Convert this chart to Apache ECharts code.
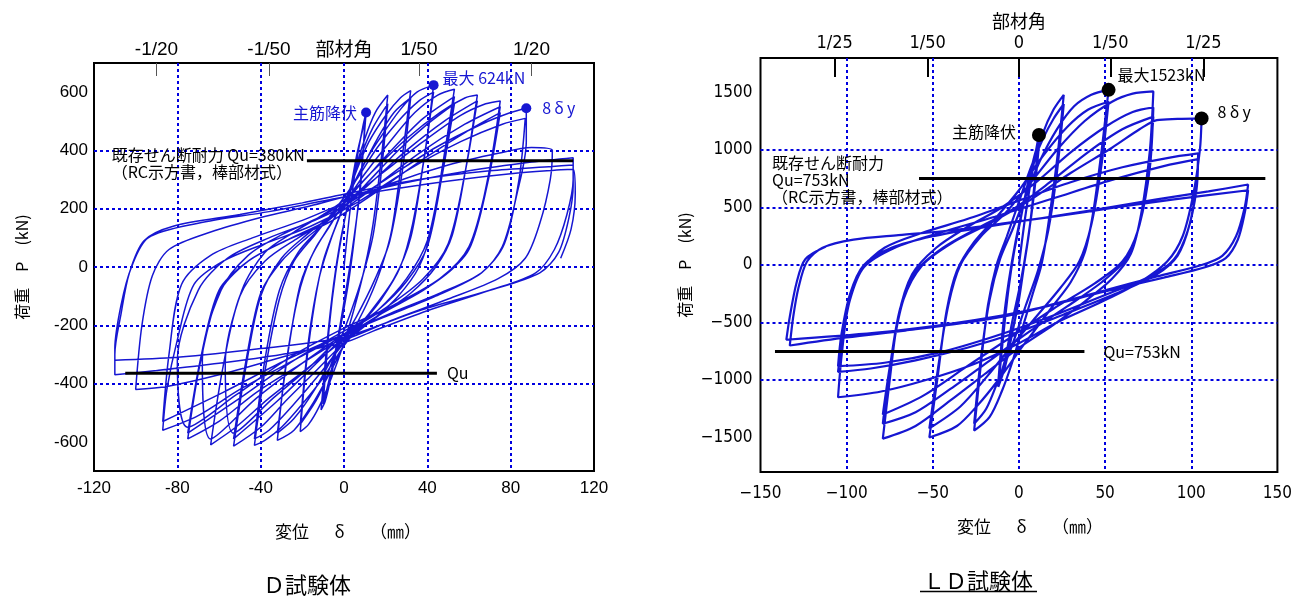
<!DOCTYPE html>
<html><head><meta charset="utf-8">
<script src="https://cdn.jsdelivr.net/npm/echarts@6/dist/echarts.min.js"></script>
<style>html,body{margin:0;padding:0;background:#fff}#c{width:1295px;height:597px}</style>
</head><body><div id="c"></div>
<script>
// ---------- D specimen (left) : displacement mm, load kN ----------
const D_c1 = [[0,0],[3,200],[6,360],[9,480],[10.6,530],[8,300],[5,100],[2,-60],[-2,-220],[-6,-370],[-9,-460],[-11,-490]];
const D_c1b = [[-8,-250],[-5,-60],[-2,80],[2,220],[6,380],[10,500],[8,280],[4,60],[0,-120],[-5,-320],[-10,-470]];
const D_c2 = [[-7,-200],[-4,-20],[0,150],[5,320],[10,440],[15,530],[21,590],[18,380],[14,150],[10,0],[5,-140],[0,-260],[-6,-380],[-12,-480],[-17,-540],[-21,-565]];
const D_c2b = [[-18,-330],[-14,-120],[-10,20],[-4,140],[2,250],[8,380],[14,480],[21,560],[18,330],[14,110],[9,-30],[3,-160],[-4,-290],[-12,-440],[-21,-540]];
const D_c3 = [[-17,-250],[-12,-40],[-6,100],[0,210],[6,330],[12,430],[20,520],[27,580],[32,605],[28,380],[23,130],[18,0],[12,-110],[5,-210],[0,-270],[-8,-380],[-16,-480],[-24,-560],[-32,-595]];
const D_c3b = [[-28,-340],[-22,-100],[-16,30],[-8,130],[0,220],[8,330],[16,440],[24,530],[32,580],[28,330],[22,90],[15,-40],[6,-170],[-4,-290],[-14,-420],[-24,-520],[-32,-570]];
const D_c4 = [[-27,-300],[-21,-60],[-14,60],[-6,150],[2,250],[10,360],[18,450],[27,540],[35,600],[43,624],[39,400],[33,150],[27,0],[18,-110],[8,-200],[0,-270],[-10,-380],[-20,-470],[-30,-550],[-38,-595],[-43,-612]];
const D_c4b = [[-38,-360],[-31,-110],[-24,20],[-14,110],[-4,200],[6,300],[16,410],[26,500],[36,570],[43,600],[38,350],[32,100],[24,-40],[12,-160],[0,-260],[-12,-370],[-24,-470],[-36,-560],[-43,-590]];
const D_c5 = [[-38,-320],[-31,-80],[-22,50],[-12,130],[0,220],[10,320],[22,430],[34,530],[45,590],[53,610],[48,380],[42,130],[36,0],[26,-100],[14,-180],[0,-260],[-14,-360],[-28,-460],[-40,-550],[-53,-615]];
const D_c5b = [[-47,-340],[-40,-100],[-30,30],[-18,110],[-4,190],[10,300],[24,410],[38,510],[53,585],[47,330],[40,90],[30,-40],[16,-150],[0,-240],[-16,-350],[-32,-460],[-53,-590]];
const D_c5c = [[-47,-320],[-40,-90],[-30,20],[-18,100],[-4,180],[10,280],[26,400],[40,490],[53,560],[47,310],[40,70],[30,-50],[16,-150],[0,-230],[-16,-340],[-34,-450],[-53,-570]];
const D_c6 = [[-57,-330],[-49,-80],[-38,50],[-24,120],[-10,180],[0,230],[14,330],[30,440],[46,530],[58,580],[64,590],[59,360],[52,110],[44,0],[32,-90],[16,-170],[0,-250],[-18,-350],[-36,-450],[-52,-550],[-64,-610]];
const D_c6b = [[-58,-340],[-50,-100],[-38,20],[-22,100],[-6,170],[10,270],[30,400],[48,500],[64,570],[58,320],[50,80],[38,-40],[20,-140],[0,-230],[-20,-330],[-42,-450],[-64,-590]];
const D_c7 = [[-68,-320],[-59,-80],[-46,40],[-30,110],[-12,170],[0,220],[18,320],[38,430],[56,520],[68,560],[75,570],[70,340],[62,100],[53,0],[38,-80],[18,-160],[0,-240],[-20,-330],[-42,-430],[-60,-530],[-75,-590]];
const D_c7b = [[-69,-330],[-60,-90],[-46,20],[-28,90],[-8,160],[12,260],[36,390],[58,490],[75,550],[69,300],[60,70],[46,-40],[24,-130],[0,-220],[-24,-320],[-50,-450],[-75,-570]];
const D_c7c = [[-69,-320],[-60,-80],[-46,20],[-28,90],[-8,150],[14,250],[38,370],[60,470],[75,530],[69,290],[60,60],[46,-40],[24,-130],[0,-210],[-26,-310],[-52,-440],[-75,-550]];
const D_c8 = [[-80,-320],[-70,-80],[-56,30],[-36,100],[-14,160],[0,210],[20,300],[44,410],[66,490],[80,530],[87.5,545],[87.5,430],[83,250],[76,70],[66,-20],[46,-90],[22,-160],[0,-230],[-24,-320],[-50,-420],[-70,-510],[-87,-560]];
const D_c8b = [[-85,-420],[-80,-250],[-72,-60],[-58,20],[-38,80],[-16,140],[6,220],[30,330],[56,430],[76,490],[87,510],[84,300],[77,80],[66,-20],[44,-100],[20,-170],[0,-230],[-28,-320],[-58,-430],[-87,-530]];
const D_c9 = [[-84,-300],[-78,-60],[-64,40],[-44,100],[-20,160],[0,220],[24,290],[50,350],[74,390],[90,410],[100,400],[99,300],[94,150],[87,30],[74,-40],[50,-110],[24,-180],[0,-250],[-30,-310],[-60,-370],[-85,-410],[-100,-420]];
const D_c10 = [[-97,-200],[-92,-30],[-84,60],[-64,120],[-40,170],[-16,210],[0,240],[30,290],[60,330],[90,360],[110,375],[110,300],[107,180],[101,60],[92,-20],[70,-80],[40,-150],[14,-220],[0,-260],[-30,-300],[-60,-330],[-90,-355],[-110,-370]];
const D_c10b = [[-110,-300],[-107,-160],[-103,-20],[-96,90],[-82,140],[-50,180],[-20,220],[0,250],[36,300],[70,330],[100,345],[110,350],[110,280],[108,170],[103,50],[94,-20],[70,-80],[36,-150],[0,-240],[-40,-280],[-80,-310],[-110,-320]];
const D_c10c = [[-110,-280],[-107,-130],[-102,0],[-94,100],[-70,150],[-36,190],[0,240],[40,285],[80,320],[110,335],[111,250],[109,130],[104,30]];

const D_yield = [10.6, 530];
const D_max = [43, 624];
const D_8dy = [87.5, 545];
const D_quUpper = [[-17.8, 365], [110, 365]];
const D_quLower = [[-105, -365], [44.6, -365]];
const D_quNote = [-111.5, 356];
const D_yTicks = [-600, -400, -200, 0, 200, 400, 600];
const D_angleVals = [-90, -36, 36, 90];
const D_angleLabels = ['-1/20', '-1/50', '1/50', '1/20'];

// ---------- LD specimen (right) ----------
const L_c1 = [[0,0],[3,350],[6,650],[9,920],[11.6,1130],[9,700],[6,300],[3,0],[0,-300],[-4,-600],[-8,-880],[-12,-1060]];
const L_c1b = [[-9,-600],[-6,-200],[-3,100],[1,400],[5,700],[9,950],[12,1100],[9,650],[5,200],[1,-150],[-4,-500],[-8,-820],[-12,-1020]];
const L_c2 = [[-9,-500],[-6,-150],[-2,200],[3,550],[8,850],[14,1150],[20,1350],[26,1480],[22,900],[17,350],[13,0],[8,-250],[2,-550],[-4,-850],[-10,-1100],[-17,-1320],[-26,-1440]];
const L_c2b = [[-22,-850],[-18,-350],[-13,0],[-7,250],[0,550],[7,850],[14,1100],[20,1270],[26,1400],[22,800],[17,300],[11,-50],[4,-350],[-4,-700],[-12,-1000],[-19,-1250],[-26,-1380]];
const L_c3 = [[-22,-800],[-17,-300],[-11,50],[-4,300],[4,600],[12,900],[22,1180],[32,1380],[42,1480],[52,1523],[48,1000],[43,450],[38,100],[30,-150],[20,-350],[10,-550],[0,-750],[-12,-1000],[-24,-1220],[-36,-1400],[-52,-1500]];
const L_c3b = [[-47,-950],[-42,-400],[-36,-50],[-26,200],[-14,400],[0,650],[14,950],[28,1200],[40,1350],[52,1420],[48,880],[42,350],[35,30],[24,-200],[10,-450],[-4,-700],[-18,-960],[-34,-1230],[-52,-1420]];
const L_c4 = [[-47,-900],[-41,-350],[-34,0],[-22,250],[-8,450],[6,700],[22,1000],[38,1250],[54,1420],[66,1490],[78,1510],[76,1000],[71,450],[65,100],[54,-120],[38,-320],[20,-520],[0,-720],[-20,-950],[-40,-1180],[-60,-1400],[-79,-1510]];
const L_c4b = [[-75,-1000],[-70,-450],[-62,-80],[-48,150],[-30,330],[-10,500],[10,720],[30,980],[50,1200],[66,1330],[78,1370],[76,850],[70,350],[62,50],[48,-150],[28,-360],[6,-580],[-16,-820],[-40,-1080],[-60,-1280],[-79,-1380]];
const L_c4c = [[-75,-900],[-69,-380],[-60,-60],[-44,150],[-24,320],[-4,480],[18,720],[40,980],[60,1180],[78,1290],[75,780],[69,300],[60,30],[44,-160],[20,-380],[-4,-620],[-30,-880],[-56,-1140],[-79,-1300]];
const L_c5 = [[-74,-800],[-67,-300],[-56,0],[-38,200],[-16,370],[6,560],[30,800],[54,1020],[70,1180],[80,1260],[92,1270],[106,1275],[105,1000],[101,600],[95,250],[86,30],[70,-150],[48,-320],[22,-500],[0,-680],[-26,-860],[-54,-1000],[-80,-1100],[-105,-1150]];
const L_c5b = [[-103,-800],[-99,-350],[-92,-50],[-78,150],[-56,280],[-30,400],[0,560],[30,720],[60,850],[86,930],[104,970],[103,700],[99,350],[92,80],[80,-80],[56,-250],[26,-430],[0,-580],[-30,-720],[-60,-830],[-86,-900],[-105,-930]];
const L_c5c = [[-103,-700],[-98,-300],[-90,-20],[-72,150],[-46,280],[-14,420],[20,580],[54,740],[84,860],[104,920],[103,650],[98,300],[90,50],[76,-100],[50,-260],[18,-450],[-14,-620],[-46,-760],[-78,-850],[-105,-880]];
const L_c6 = [[-103,-600],[-98,-250],[-90,0],[-74,150],[-50,250],[-20,330],[10,400],[44,480],[80,570],[110,640],[133,700],[131,500],[126,250],[118,80],[106,0],[80,-100],[50,-220],[20,-340],[0,-420],[-30,-500],[-66,-570],[-100,-630],[-133,-700]];
const L_c6b = [[-131,-450],[-128,-200],[-123,30],[-114,150],[-96,220],[-70,260],[-40,300],[-10,360],[20,420],[56,500],[90,570],[133,650],[131,450],[127,220],[120,60],[108,-20],[84,-110],[50,-230],[16,-360],[-10,-440],[-44,-520],[-84,-590],[-135,-650]];
const L_c6c = [[-133,-450],[-129,-150],[-124,50],[-112,160]];

const L_yield = [11.6, 1130];
const L_max = [52, 1523];
const L_8dy = [106, 1275];
const L_quUpper = [[-58, 753], [143, 753]];
const L_quLower = [[-141.6, -753], [38, -753]];
const L_quNote = [-143.3, 739];
const L_yTicks = [-1500, -1000, -500, 0, 500, 1000, 1500];
const L_angleVals = [-107, -53, 0, 53, 107];
const L_angleLabels = ['1/25', '1/50', '0', '1/50', '1/25'];

// ---------- build ----------
const D_all = [].concat(D_c1, D_c1b, D_c2, D_c2b, D_c3, D_c3b, D_c4, D_c4b, D_c5, D_c5b, D_c5c, D_c6, D_c6b, D_c7, D_c7b, D_c7c, D_c8, D_c8b, D_c9, D_c10, D_c10b, D_c10c);
const L_all = [].concat(L_c1, L_c1b, L_c2, L_c2b, L_c3, L_c3b, L_c4, L_c4b, L_c4c, L_c5, L_c5b, L_c5c, L_c6, L_c6b, L_c6c);

const FONT = '"Liberation Sans", Arial, sans-serif';
const NFONT = '"Liberation Sans Narrow", "DejaVu Sans Condensed", "Liberation Sans", sans-serif';
const JFONT = '"Noto Sans CJK JP", sans-serif';
const BLUE = '#1616d2';
const GRIDC = '#0000e0';
const split = {show: true, showMinLine: false, showMaxLine: false, lineStyle: {color: GRIDC, width: 2, type: [3, 3]}};
const minusFmt = v => (v < 0 ? '\u2212' + (-v) : String(v));
const xName = '変位\u3000\u2002δ\u3000\u2002（㎜）';

const chart = echarts.init(document.getElementById('c'));
chart.setOption({
  animation: false,
  backgroundColor: '#fff',
  textStyle: {fontFamily: JFONT},
  grid: [
    {left: 94, top: 63, width: 500, height: 408, show: true, borderColor: '#000', borderWidth: 2, backgroundColor: 'transparent'},
    {left: 760.5, top: 58, width: 518.5, height: 414, show: true, borderColor: '#000', borderWidth: 2, backgroundColor: 'transparent'}
  ],
  xAxis: [
    {gridIndex: 0, type: 'value', min: -120, max: 120, interval: 40, position: 'bottom',
     axisLine: {show: false, onZero: false}, axisTick: {show: false},
     axisLabel: {color: '#000', fontSize: 17, fontFamily: FONT, margin: 9, showMinLabel: true, showMaxLabel: true},
     splitLine: split,
     name: xName, nameLocation: 'middle', nameGap: 52, nameMoveOverlap: false,
     nameTextStyle: {color: '#000', fontSize: 17, fontFamily: JFONT, padding: [0, 0, 0, 8]}},
    {gridIndex: 0, type: 'value', min: -120, max: 120, position: 'top',
     axisLine: {show: false, onZero: false},
     axisTick: {show: true, inside: true, length: 13, customValues: D_angleVals, lineStyle: {color: '#555', width: 1}},
     axisLabel: {customValues: D_angleVals, color: '#000', fontSize: 19, fontFamily: FONT, margin: 4,
       formatter: v => D_angleLabels[D_angleVals.indexOf(v)]},
     splitLine: {show: false},
     name: '部材角', nameLocation: 'middle', nameGap: 5, nameMoveOverlap: false,
     nameTextStyle: {color: '#000', fontSize: 19, fontFamily: JFONT}},
    {gridIndex: 1, type: 'value', min: -150, max: 150, interval: 50, position: 'bottom',
     axisLine: {show: false, onZero: false}, axisTick: {show: false},
     axisLabel: {color: '#000', fontSize: 17, fontFamily: NFONT, margin: 13, formatter: minusFmt, showMinLabel: true, showMaxLabel: true},
     splitLine: split,
     name: xName, nameLocation: 'middle', nameGap: 46, nameMoveOverlap: false,
     nameTextStyle: {color: '#000', fontSize: 17, fontFamily: JFONT, padding: [0, 0, 0, 22]}},
    {gridIndex: 1, type: 'value', min: -150, max: 150, position: 'top',
     axisLine: {show: false, onZero: false},
     axisTick: {show: true, inside: true, length: 19, customValues: L_angleVals, lineStyle: {color: '#000', width: 2}},
     axisLabel: {customValues: L_angleVals, color: '#000', fontSize: 18, fontFamily: NFONT, margin: 6,
       formatter: v => L_angleLabels[L_angleVals.indexOf(v)]},
     splitLine: {show: false},
     name: '部材角', nameLocation: 'middle', nameGap: 28, nameMoveOverlap: false,
     nameTextStyle: {color: '#000', fontSize: 18, fontFamily: JFONT}}
  ],
  yAxis: [
    {gridIndex: 0, type: 'value', min: -700, max: 700,
     axisLine: {show: false, onZero: false}, axisTick: {show: false, customValues: D_yTicks},
     axisLabel: {customValues: D_yTicks, color: '#000', fontSize: 17, fontFamily: FONT, margin: 6},
     splitLine: split,
     name: '荷重　P　(kN)', nameLocation: 'middle', nameRotate: 90, nameGap: 64, nameMoveOverlap: false,
     nameTextStyle: {color: '#000', fontSize: 16, fontFamily: JFONT}},
    {gridIndex: 1, type: 'value', min: -1800, max: 1800,
     axisLine: {show: false, onZero: false}, axisTick: {show: false, customValues: L_yTicks},
     axisLabel: {customValues: L_yTicks, color: '#000', fontSize: 17, fontFamily: NFONT, margin: 8, formatter: minusFmt},
     splitLine: split,
     name: '荷重　P　(kN)', nameLocation: 'middle', nameRotate: 90, nameGap: 68, nameMoveOverlap: false,
     nameTextStyle: {color: '#000', fontSize: 16, fontFamily: JFONT}}
  ],
  series: [
    {type: 'line', xAxisIndex: 0, yAxisIndex: 0, data: D_all, showSymbol: false, smooth: 0.3, silent: true,
     lineStyle: {color: BLUE, width: 1.5}, z: 3},
    {type: 'line', xAxisIndex: 0, yAxisIndex: 0, data: D_quUpper, showSymbol: false, silent: true, lineStyle: {color: '#000', width: 3}, z: 4},
    {type: 'line', xAxisIndex: 0, yAxisIndex: 0, data: D_quLower, showSymbol: false, silent: true, lineStyle: {color: '#000', width: 3}, z: 4},
    {type: 'scatter', xAxisIndex: 0, yAxisIndex: 0, symbolSize: 10, z: 5, silent: true,
     itemStyle: {color: BLUE, opacity: 1},
     label: {show: true, color: BLUE, fontSize: 16, fontFamily: JFONT, opacity: 1},
     data: [
       {value: D_yield, label: {formatter: '主筋降伏', position: 'left', distance: 4}},
       {value: D_max, label: {formatter: '最大 624kN', position: 'right', distance: 4, offset: [0, -7]}},
       {value: D_8dy, label: {formatter: '8\u2009δ\u2009y', position: 'right', distance: 11}}
     ]},
    {type: 'scatter', xAxisIndex: 0, yAxisIndex: 0, symbolSize: 0, z: 5, silent: true,
     itemStyle: {opacity: 1},
     label: {show: true, color: '#000', fontSize: 16, fontFamily: JFONT, lineHeight: 17, opacity: 1},
     data: [
       {value: D_quNote, label: {formatter: '既存せん断耐力 Qu=380kN\n（RC示方書，棒部材式）', position: 'right', distance: 0, align: 'left'}},
       {value: D_quLower[1], label: {formatter: 'Qu', position: 'right', distance: 10}}
     ]},

    {type: 'line', xAxisIndex: 2, yAxisIndex: 1, data: L_all, showSymbol: false, smooth: 0.3, silent: true,
     lineStyle: {color: BLUE, width: 2.2}, z: 3},
    {type: 'line', xAxisIndex: 2, yAxisIndex: 1, data: L_quUpper, showSymbol: false, silent: true, lineStyle: {color: '#000', width: 3}, z: 4},
    {type: 'line', xAxisIndex: 2, yAxisIndex: 1, data: L_quLower, showSymbol: false, silent: true, lineStyle: {color: '#000', width: 3}, z: 4},
    {type: 'scatter', xAxisIndex: 2, yAxisIndex: 1, symbolSize: 14, z: 5, silent: true,
     itemStyle: {color: '#000', opacity: 1},
     label: {show: true, color: '#000', fontSize: 16, fontFamily: JFONT, opacity: 1},
     data: [
       {value: L_yield, label: {formatter: '主筋降伏', position: 'left', distance: 16, offset: [0, -3]}},
       {value: L_max, label: {formatter: '最大1523kN', position: 'right', distance: 2, offset: [0, -15]}},
       {value: L_8dy, label: {formatter: '8\u2009δ\u2009y', position: 'right', distance: 9, offset: [0, -6]}}
     ]},
    {type: 'scatter', xAxisIndex: 2, yAxisIndex: 1, symbolSize: 0, z: 5, silent: true,
     itemStyle: {opacity: 1},
     label: {show: true, color: '#000', fontSize: 16, fontFamily: JFONT, lineHeight: 17, opacity: 1},
     data: [
       {value: L_quNote, label: {formatter: '既存せん断耐力\nQu=753kN\n（RC示方書，棒部材式）', position: 'right', distance: 0, align: 'left'}},
       {value: L_quLower[1], label: {formatter: 'Qu=753kN', position: 'right', distance: 19}}
     ]}
  ],
  graphic: [
    {type: 'text', x: 307, y: 585, style: {text: 'Ｄ試験体', font: '22px "Noto Sans CJK JP"', fill: '#000', align: 'center', verticalAlign: 'middle'}},
    {type: 'text', x: 978, y: 581, style: {text: 'ＬＤ試験体', font: '22px "Noto Sans CJK JP"', fill: '#000', align: 'center', verticalAlign: 'middle'}},
    {type: 'line', shape: {x1: 920, y1: 591.5, x2: 1037, y2: 591.5}, style: {stroke: '#000', lineWidth: 1.5}}
  ]
});
</script></body></html>
